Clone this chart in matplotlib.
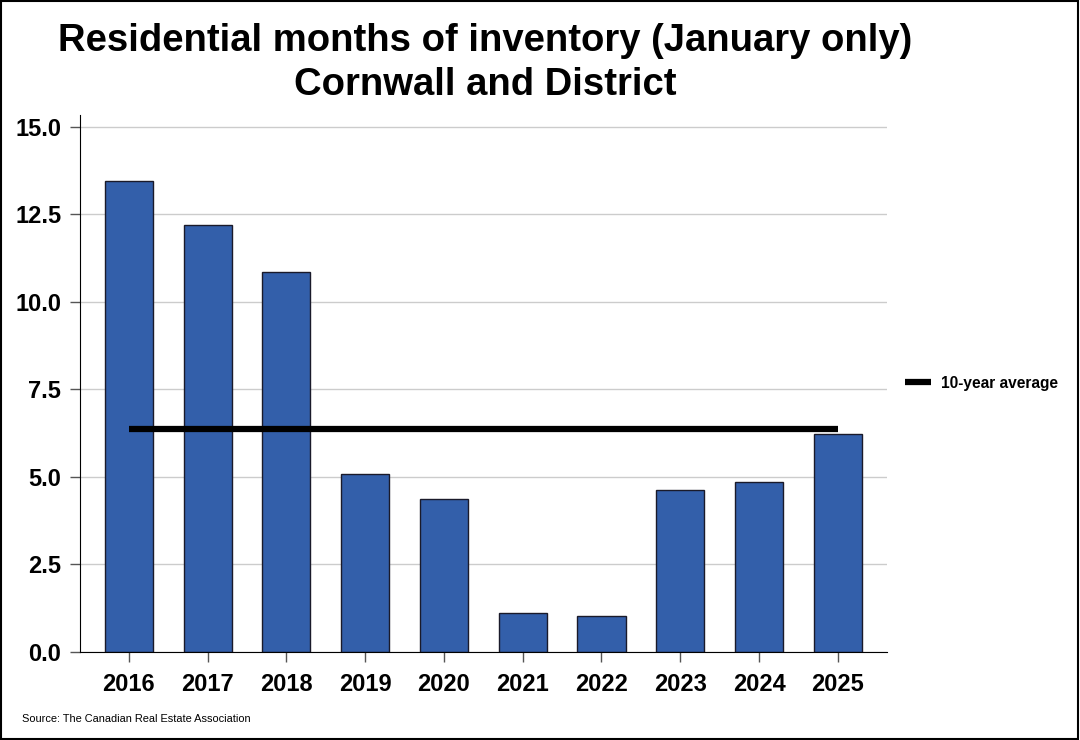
import numpy as np
import matplotlib.pyplot as plt
from matplotlib.patches import Rectangle

plt.rcParams['font.family'] = ['Liberation Sans', 'DejaVu Sans']

# 数据
years = ['2016', '2017', '2018', '2019', '2020', '2021', '2022', '2023', '2024', '2025']
months_inventory = [13.46, 12.20, 10.86, 5.09, 4.37, 1.11, 1.03, 4.63, 4.86, 6.23]
ten_year_avg = 6.37
y_ticks = [0.0, 2.5, 5.0, 7.5, 10.0, 12.5, 15.0]

fig = plt.figure(figsize=(10.8, 7.4), dpi=100)
ax = fig.add_axes([0.074, 0.119, 0.747, 0.726])

x = np.arange(len(years))
ax.bar(x, months_inventory, width=0.61, color='#335FAA', edgecolor='#1a1a2a', linewidth=1.0, zorder=2)
avg_line, = ax.plot([x[0], x[-1]], [ten_year_avg, ten_year_avg], color='black', linewidth=4.5,
                    solid_capstyle='butt', zorder=3)

ax.set_xlim(-0.62, len(years) - 1 + 0.62)
ax.set_ylim(0, 15.35)
ax.set_yticks(y_ticks)
ax.set_yticklabels([f'{t:.1f}' for t in y_ticks], fontsize=17, fontweight='bold')
ax.set_xticks(x)
ax.set_xticklabels(years, fontsize=17, fontweight='bold')
ax.tick_params(axis='both', direction='out', length=7.4, width=1, color='#555555')
ax.tick_params(axis='x', pad=8)
ax.tick_params(axis='y', pad=6)

ax.grid(axis='y', color='#cccccc', linewidth=1, zorder=0)
ax.set_axisbelow(True)
ax.spines['top'].set_visible(False)
ax.spines['right'].set_visible(False)

fig.text(0.449, 0.944, 'Residential months of inventory (January only)', ha='center', va='center',
         fontsize=27.5, fontweight='bold')
fig.text(0.449, 0.885, 'Cornwall and District', ha='center', va='center',
         fontsize=27.5, fontweight='bold')

fig.legend([avg_line], ['10-year average'], loc='center left', bbox_to_anchor=(0.838, 0.482),
           frameon=False, handlelength=1.7, handletextpad=0.6, borderpad=0, borderaxespad=0,
           prop={'weight': 'bold', 'size': 11.2})

fig.text(0.02, 0.028, 'Source: The Canadian Real Estate Association', fontsize=7.9, ha='left', va='center')

fig.patches.append(Rectangle((0.0005, 0.0007), 0.998, 0.998, transform=fig.transFigure,
                             fill=False, edgecolor='black', linewidth=1.5))

fig.savefig('out.png', dpi=100)
